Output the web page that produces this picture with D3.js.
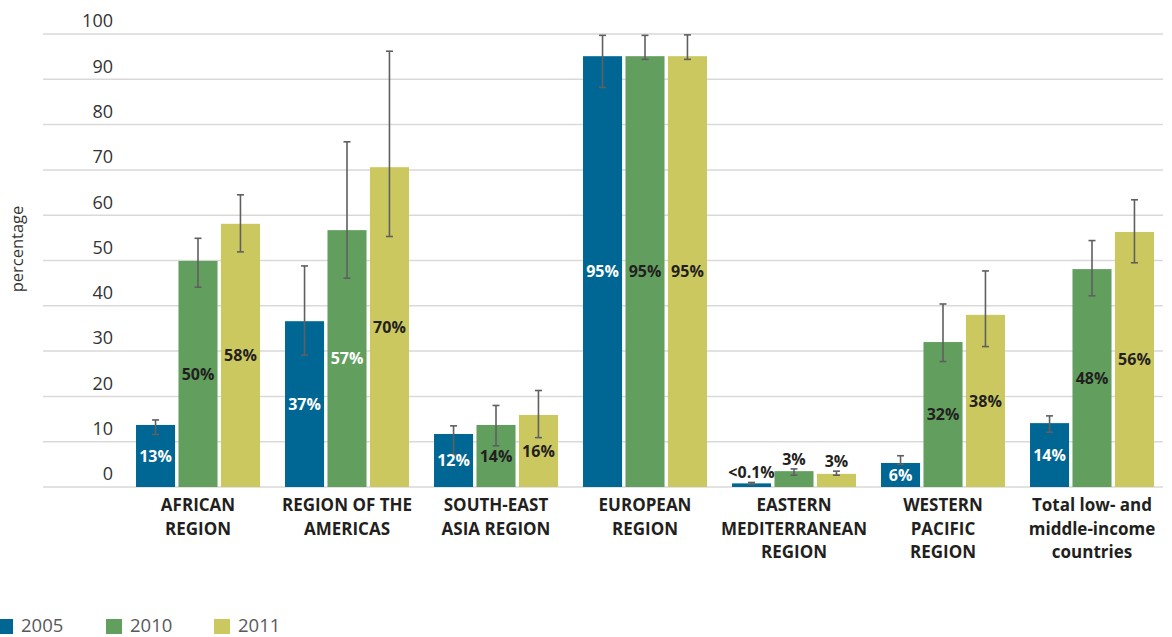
<!DOCTYPE html>
<html>
<head>
<meta charset="utf-8">
<script src="https://cdn.jsdelivr.net/npm/d3@7"></script>
<style>
  html, body { margin: 0; padding: 0; background: #fff; }
  svg { display: block; font-family: "Open Sans", "Noto Sans", sans-serif; }
</style>
</head>
<body>
<svg id="chart" width="1172" height="637"></svg>
<script>
const categories = [
  ["AFRICAN", "REGION"],
  ["REGION OF THE", "AMERICAS"],
  ["SOUTH-EAST", "ASIA REGION"],
  ["EUROPEAN", "REGION"],
  ["EASTERN", "MEDITERRANEAN", "REGION"],
  ["WESTERN", "PACIFIC", "REGION"],
  ["Total low- and", "middle-income", "countries"]
];
const seriesNames = ["2005", "2010", "2011"];
const seriesColors = ["#006794", "#629f5f", "#ccc860"];

const values2005 = [13.7, 36.6, 11.7, 95.1, 0.8, 5.3, 14.1];
const values2010 = [49.9, 56.7, 13.7, 95.1, 3.5, 32.0, 48.1];
const values2011 = [58.1, 70.6, 15.9, 95.1, 2.9, 38.0, 56.3];

const errLow2005  = [11.6, 29.1, 7.1, 88.2, 0.6, 5.0, 12.1];
const errHigh2005 = [14.8, 48.8, 13.5, 99.7, 1.0, 6.9, 15.7];
const errLow2010  = [44.1, 46.1, 9.1, 94.4, 2.6, 27.7, 42.2];
const errHigh2010 = [54.9, 76.2, 18.0, 99.7, 4.0, 40.4, 54.4];
const errLow2011  = [51.9, 55.3, 10.9, 94.4, 2.6, 31.0, 49.5];
const errHigh2011 = [64.5, 96.2, 21.3, 99.8, 3.5, 47.7, 63.4];

const labels2005 = ["13%", "37%", "12%", "95%", "<0.1%", "6%", "14%"];
const labels2010 = ["50%", "57%", "14%", "95%", "3%", "32%", "48%"];
const labels2011 = ["58%", "70%", "16%", "95%", "3%", "38%", "56%"];

const yTicks = [0, 10, 20, 30, 40, 50, 60, 70, 80, 90, 100];
const yLabel = "percentage";

const series = [
  { name: seriesNames[0], values: values2005, lo: errLow2005, hi: errHigh2005, labels: labels2005 },
  { name: seriesNames[1], values: values2010, lo: errLow2010, hi: errHigh2010, labels: labels2010 },
  { name: seriesNames[2], values: values2011, lo: errLow2011, hi: errHigh2011, labels: labels2011 }
];

const svg = d3.select("#chart");
const catIdx = d3.range(categories.length);

const y = d3.scaleLinear().domain([0, 100]).range([487, 34]);
const x0 = d3.scaleBand().domain(catIdx).range([123.5, 1166.5]).paddingInner(0.168).paddingOuter(0.084);
const x1 = d3.scaleBand().domain(seriesNames).range([0, x0.bandwidth()]).paddingInner(0.08);
const color = d3.scaleOrdinal().domain(seriesNames).range(seriesColors);

// gridlines
svg.append("g").selectAll("line").data(yTicks).join("line")
  .attr("x1", 43).attr("x2", 1163)
  .attr("y1", d => y(d)).attr("y2", d => y(d))
  .attr("stroke", "#d9d9d9").attr("stroke-width", 1.5);

// tick labels (placed above their gridlines as in the reference)
svg.append("g").selectAll("text").data(yTicks).join("text")
  .attr("x", 113).attr("y", d => y(d) - 13)
  .attr("dy", "0.35em")
  .attr("text-anchor", "end")
  .attr("font-size", 18)
  .attr("fill", "#333")
  .text(d => d);

svg.append("text")
  .attr("transform", "translate(23,249) rotate(-90)")
  .attr("text-anchor", "middle")
  .attr("font-size", 16.5)
  .attr("fill", "#333")
  .text(yLabel);

const groups = svg.append("g").selectAll("g").data(catIdx).join("g")
  .attr("transform", i => `translate(${x0(i)},0)`);

// bars + error bars
groups.each(function(i) {
  const g = d3.select(this);
  series.forEach(s => {
    const v = s.values[i];
    const bx = x1(s.name), bw = x1.bandwidth();
    g.append("rect")
      .attr("x", bx).attr("width", bw)
      .attr("y", y(v)).attr("height", y(0) - y(v))
      .attr("fill", color(s.name));
    const cx = bx + bw / 2;
    const eg = g.append("g").attr("stroke", "#5f5f5f").attr("stroke-width", 1.6);
    eg.append("line").attr("x1", cx).attr("x2", cx).attr("y1", y(s.hi[i])).attr("y2", y(s.lo[i]));
    eg.append("line").attr("x1", cx - 3.5).attr("x2", cx + 3.5).attr("y1", y(s.hi[i])).attr("y2", y(s.hi[i]));
    eg.append("line").attr("x1", cx - 3.5).attr("x2", cx + 3.5).attr("y1", y(s.lo[i])).attr("y2", y(s.lo[i]));
  });
});

// value labels
groups.each(function(i) {
  const g = d3.select(this);
  series.forEach((s, si) => {
    const v = s.values[i];
    const cx = x1(s.name) + x1.bandwidth() / 2;
    const small = v < 5;
    let fill = "#231f20";
    if (!small && (si === 0 || (si === 1 && i === 1))) fill = "#ffffff";
    g.append("text")
      .attr("x", cx)
      .attr("y", small ? y(Math.max(v, s.hi[i])) - 4 : (y(v) + y(0)) / 2)
      .attr("dy", small ? 0 : "0.36em")
      .attr("text-anchor", "middle")
      .attr("font-size", 16)
      .attr("font-weight", 700)
      .attr("fill", fill)
      .text(s.labels[i]);
  });
});

// category labels
const cl = svg.append("g").selectAll("text").data(catIdx).join("text")
  .attr("text-anchor", "middle")
  .attr("font-size", 17)
  .attr("font-weight", 700)
  .attr("fill", "#231f20");
cl.each(function(i) {
  const t = d3.select(this);
  categories[i].forEach((line, k) => {
    t.append("tspan").attr("x", x0(i) + x0.bandwidth() / 2).attr("y", 511 + k * 23.5).text(line);
  });
});

// legend
const leg = svg.append("g").selectAll("g").data(seriesNames).join("g")
  .attr("transform", (d, k) => `translate(${[-3, 106, 214][k]},619)`);
leg.append("rect").attr("width", 16).attr("height", 15).attr("fill", d => color(d));
leg.append("text").attr("x", 24).attr("y", 13).attr("font-size", 18.5).attr("fill", "#595959").text(d => d);
</script>
</body>
</html>
